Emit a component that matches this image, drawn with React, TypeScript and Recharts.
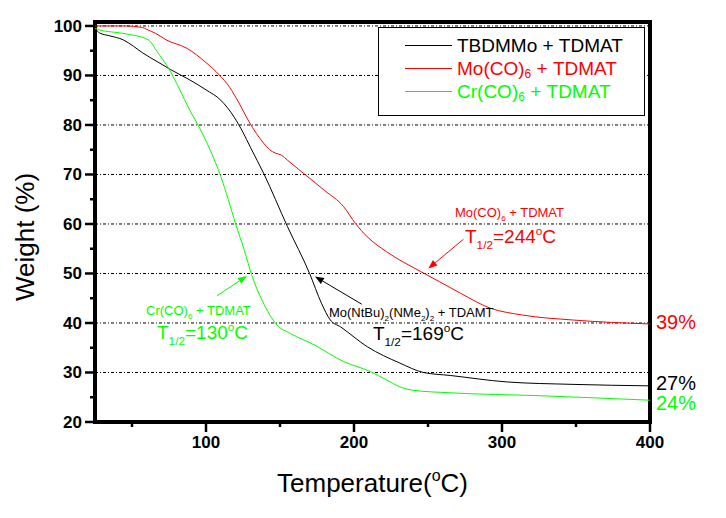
import React from 'react';
import {
  LineChart,
  Line,
  XAxis,
  YAxis,
  ReferenceLine,
  ReferenceArea,
  ReferenceDot,
  Legend,
} from 'recharts';

// ---------- data ----------
const blackTemps = [25, 28, 35, 44, 51, 57, 67, 76, 89, 100, 110, 119, 125, 130, 139, 155, 170, 178, 184, 191, 209, 231, 247, 265, 303, 348, 400];
const blackWeights = [99.5, 98.6, 98.0, 97.2, 95.9, 94.6, 92.8, 91.2, 89.1, 87.1, 85.0, 81.6, 78.5, 75.5, 70.2, 59.5, 50.0, 44.0, 40.6, 39.2, 35.2, 31.9, 30.0, 29.4, 28.1, 27.6, 27.3];

const redTemps = [25, 45, 57, 60, 66, 73, 87, 100, 109, 116, 122, 129, 134, 139, 143, 147, 151, 155, 166, 180, 193, 201, 209, 222, 245, 258, 272, 292, 314, 348, 400];
const redWeights = [100, 100, 99.7, 99.3, 98.5, 97.2, 95.5, 92.6, 90.1, 87.6, 84.6, 80.7, 78.3, 76.3, 75.0, 74.3, 73.9, 72.9, 70.2, 66.8, 63.5, 60.1, 57.4, 54.4, 50.4, 48.3, 46.0, 43.0, 41.6, 40.6, 39.8];

const greenTemps = [25, 28, 44, 61, 67, 75, 82, 89, 96, 103, 110, 115, 120, 126, 131, 138, 148, 157, 173, 193, 211, 222, 231, 240, 265, 326, 400];
const greenWeights = [99.5, 99.2, 98.5, 97.2, 94.8, 91.3, 87.3, 83.0, 79.2, 74.8, 69.6, 65.0, 60.0, 54.6, 49.6, 44.5, 39.6, 37.9, 35.6, 32.2, 30.2, 28.5, 27.1, 26.4, 25.9, 25.3, 24.4];

const xTicks = [50, 100, 150, 200, 250, 300, 350, 400];
const yTicks = [20, 25, 30, 35, 40, 45, 50, 55, 60, 65, 70, 75, 80, 85, 90, 95, 100];
const gridValues = [30, 40, 50, 60, 70, 80, 90, 100];

const BLACK = '#000000';
const RED = '#ff0000';
const GREEN = '#00ff00';

type Seg = { t: string; k: 'n' | 'sub' | 'sup' };

const seriesNames: Seg[][] = [
  [{ t: 'TBDMMo + TDMAT', k: 'n' }],
  [{ t: 'Mo(CO)', k: 'n' }, { t: '6', k: 'sub' }, { t: ' + TDMAT', k: 'n' }],
  [{ t: 'Cr(CO)', k: 'n' }, { t: '6', k: 'sub' }, { t: ' + TDMAT', k: 'n' }],
];
const seriesColors = [BLACK, RED, GREEN];

const toRows = (ts: number[], ws: number[]) => ts.map((t, i) => ({ t, w: ws[i] }));
const blackData = toRows(blackTemps, blackWeights);
const redData = toRows(redTemps, redWeights);
const greenData = toRows(greenTemps, greenWeights);

// annotations (data coordinates)
const annotations: { x: number; y: number; color: string; fs: number; segs: Seg[] }[] = [
  { x: 59.5, y: 41.6, color: GREEN, fs: 13, segs: [{ t: 'Cr(CO)', k: 'n' }, { t: '6', k: 'sub' }, { t: ' + TDMAT', k: 'n' }] },
  { x: 66.9, y: 36.8, color: GREEN, fs: 19, segs: [{ t: 'T', k: 'n' }, { t: '1/2', k: 'sub' }, { t: '=130', k: 'n' }, { t: 'o', k: 'sup' }, { t: 'C', k: 'n' }] },
  { x: 183.1, y: 41.2, color: BLACK, fs: 13, segs: [{ t: 'Mo(NtBu)', k: 'n' }, { t: '2', k: 'sub' }, { t: '(NMe', k: 'n' }, { t: '2', k: 'sub' }, { t: ')', k: 'n' }, { t: '2', k: 'sub' }, { t: ' + TDAMT', k: 'n' }] },
  { x: 212.8, y: 36.6, color: BLACK, fs: 19, segs: [{ t: 'T', k: 'n' }, { t: '1/2', k: 'sub' }, { t: '=169', k: 'n' }, { t: 'o', k: 'sup' }, { t: 'C', k: 'n' }] },
  { x: 268.2, y: 61.4, color: RED, fs: 13, segs: [{ t: 'Mo(CO)', k: 'n' }, { t: '6', k: 'sub' }, { t: ' + TDMAT', k: 'n' }] },
  { x: 275.0, y: 56.2, color: RED, fs: 19, segs: [{ t: 'T', k: 'n' }, { t: '1/2', k: 'sub' }, { t: '=244', k: 'n' }, { t: 'o', k: 'sup' }, { t: 'C', k: 'n' }] },
];

const arrows: { from: [number, number]; to: [number, number]; color: string }[] = [
  { from: [107.4, 45.5], to: [127.7, 49.5], color: GREEN },
  { from: [205.2, 43.8], to: [173.6, 49.4], color: BLACK },
  { from: [273.9, 56.9], to: [250.2, 51.0], color: RED },
];

const endLabels = [
  { text: '39%', y: 40.2, color: RED },
  { text: '27%', y: 27.9, color: BLACK },
  { text: '24%', y: 23.8, color: GREEN },
];

const FONT = '"Liberation Sans", Arial, Helvetica, sans-serif';

// ---------- helpers ----------
const renderRich = (segs: Seg[], fs: number) => {
  let cur = 0;
  return segs.map((s, i) => {
    const target = s.k === 'sub' ? 0.32 * fs : s.k === 'sup' ? -0.42 * fs : 0;
    const dy = target - cur;
    cur = target;
    return (
      <tspan key={i} dy={dy} fontSize={s.k === 'n' ? fs : fs * 0.62}>
        {s.t}
      </tspan>
    );
  });
};

const YTick = (props: any) => {
  const { x, y, payload } = props;
  const v = payload.value;
  const major = v % 10 === 0;
  return (
    <g>
      <line x1={x} y1={y} x2={x - (major ? 10 : 5)} y2={y} stroke="#000" strokeWidth={2.5} />
      {major && (
        <text x={x - 13} y={y} dy={6} textAnchor="end" fontSize={17} fontWeight="bold" fill="#000" fontFamily={FONT}>
          {v}
        </text>
      )}
    </g>
  );
};

const XTick = (props: any) => {
  const { x, y, payload } = props;
  const v = payload.value;
  const major = v % 100 === 0;
  return (
    <g>
      <line x1={x} y1={y} x2={x} y2={y + (major ? 10 : 5)} stroke="#000" strokeWidth={2.5} />
      {major && (
        <text x={x} y={y + 26} textAnchor="middle" fontSize={17} fontWeight="bold" fill="#000" fontFamily={FONT}>
          {v}
        </text>
      )}
    </g>
  );
};

const makeArrowShape = (color: string) => (props: any) => {
  const { x1, y1, x2, y2 } = props;
  if (![x1, y1, x2, y2].every((n) => typeof n === 'number' && isFinite(n))) return <g />;
  const dx = x2 - x1;
  const dy = y2 - y1;
  const len = Math.sqrt(dx * dx + dy * dy) || 1;
  const ux = dx / len;
  const uy = dy / len;
  const hl = 9;
  const hw = 3.5;
  const bx = x2 - ux * hl;
  const by = y2 - uy * hl;
  const pts = `${x2},${y2} ${bx - uy * hw},${by + ux * hw} ${bx + uy * hw},${by - ux * hw}`;
  return (
    <g>
      <line x1={x1} y1={y1} x2={bx} y2={by} stroke={color} strokeWidth={1} />
      <polygon points={pts} fill={color} />
    </g>
  );
};

const makeTextShape = (a: { color: string; fs: number; segs: Seg[] }) => (props: any) => {
  const { cx, cy } = props;
  return (
    <text x={cx} y={cy} fill={a.color} fontSize={a.fs} fontFamily={FONT} textAnchor="start">
      {renderRich(a.segs, a.fs)}
    </text>
  );
};

const makeEndLabel = (l: { text: string; color: string }) => (props: any) => {
  const { cx, cy } = props;
  return (
    <text x={cx + 6} y={cy + 7} fill={l.color} fontSize={20} fontFamily={FONT}>
      {l.text}
    </text>
  );
};

const LegendBox = () => (
  <div
    style={{
      width: 267,
      height: 89,
      boxSizing: 'border-box',
      border: '1px solid #000',
      background: '#fff',
      position: 'relative',
      fontFamily: FONT,
      fontSize: 19,
    }}
  >
    {seriesNames.map((segs, i) => (
      <div
        key={i}
        style={{
          position: 'absolute',
          left: 26,
          top: 6 + i * 23,
          height: 23,
          display: 'flex',
          alignItems: 'center',
          whiteSpace: 'nowrap',
          color: seriesColors[i],
          lineHeight: '23px',
        }}
      >
        <span style={{ display: 'inline-block', width: 47, height: 1, background: seriesColors[i], marginRight: 5 }} />
        {segs.map((s, j) =>
          s.k === 'sub' ? (
            <span key={j} style={{ fontSize: 12, position: 'relative', top: 6 }}>
              {s.t}
            </span>
          ) : (
            <span key={j}>{s.t.replace(/ /g, '\u00a0')}</span>
          )
        )}
      </div>
    ))}
  </div>
);

const YTitle = (props: any) => {
  const vb = props.viewBox || { x: 35, y: 22, width: 60, height: 400 };
  const cx = vb.x - 10;
  const cy = vb.y + vb.height / 2 + 15;
  return (
    <text x={cx} y={cy} transform={`rotate(-90, ${cx}, ${cy})`} textAnchor="middle" dominantBaseline="central" fontSize={26} fontFamily={FONT} fill="#000">
      Weight (%)
    </text>
  );
};

const XTitle = (props: any) => {
  const vb = props.viewBox || { x: 95, y: 422, width: 555, height: 40 };
  const cx = vb.x + vb.width / 2;
  const y = vb.y + 70;
  return (
    <text x={cx} y={y} textAnchor="middle" fontSize={26} fontFamily={FONT} fill="#000">
      <tspan>Temperature(</tspan>
      <tspan dy={-11} fontSize={16}>o</tspan>
      <tspan dy={11}>C)</tspan>
    </text>
  );
};

export default function App() {
  return (
    <div style={{ position: 'absolute', left: 0, top: 0, width: 726, height: 518, background: '#fff', fontFamily: FONT }}>
      <LineChart width={726} height={518} margin={{ top: 22, right: 76, bottom: 56, left: 35 }}>
        <XAxis
          type="number"
          dataKey="t"
          domain={[25, 400]}
          ticks={xTicks}
          interval={0}
          allowDataOverflow
          height={40}
          axisLine={false}
          tickLine={false}
          tickSize={0}
          tickMargin={0}
          tick={<XTick />}
          label={<XTitle />}
        />
        <YAxis
          type="number"
          domain={[20, 100.8]}
          ticks={yTicks}
          interval={0}
          allowDataOverflow
          width={60}
          axisLine={false}
          tickLine={false}
          tickSize={0}
          tickMargin={0}
          tick={<YTick />}
          label={<YTitle />}
        />
        {gridValues.map((g) => (
          <ReferenceLine key={g} y={g} stroke="#000" strokeWidth={1} strokeDasharray="3 2 1 2" ifOverflow="visible" />
        ))}
        <Legend
          layout="horizontal"
          verticalAlign="middle"
          align="center"
          content={() => <LegendBox />}
          wrapperStyle={{ position: 'absolute', top: 27, left: 378, width: 267, height: 89 }}
        />
        <Line data={blackData} dataKey="w" name="TBDMMo + TDMAT" type="monotone" stroke={BLACK} strokeWidth={1} dot={false} isAnimationActive={false} />
        <Line data={redData} dataKey="w" name="Mo(CO)6 + TDMAT" type="monotone" stroke={RED} strokeWidth={1} dot={false} isAnimationActive={false} />
        <Line data={greenData} dataKey="w" name="Cr(CO)6 + TDMAT" type="monotone" stroke={GREEN} strokeWidth={1} dot={false} isAnimationActive={false} />
        {arrows.map((a, i) => (
          <ReferenceLine
            key={`arr${i}`}
            segment={[
              { x: a.from[0], y: a.from[1] },
              { x: a.to[0], y: a.to[1] },
            ]}
            stroke={a.color}
            ifOverflow="visible"
            shape={makeArrowShape(a.color)}
          />
        ))}
        {annotations.map((a, i) => (
          <ReferenceDot key={`ann${i}`} x={a.x} y={a.y} r={0} ifOverflow="visible" shape={makeTextShape(a)} />
        ))}
        {endLabels.map((l, i) => (
          <ReferenceDot key={`end${i}`} x={400} y={l.y} r={0} ifOverflow="visible" shape={makeEndLabel(l)} />
        ))}
        <ReferenceArea x1={25} x2={400} y1={20} y2={100.8} fill="none" stroke="#000" strokeWidth={4} ifOverflow="visible" />
      </LineChart>
    </div>
  );
}
